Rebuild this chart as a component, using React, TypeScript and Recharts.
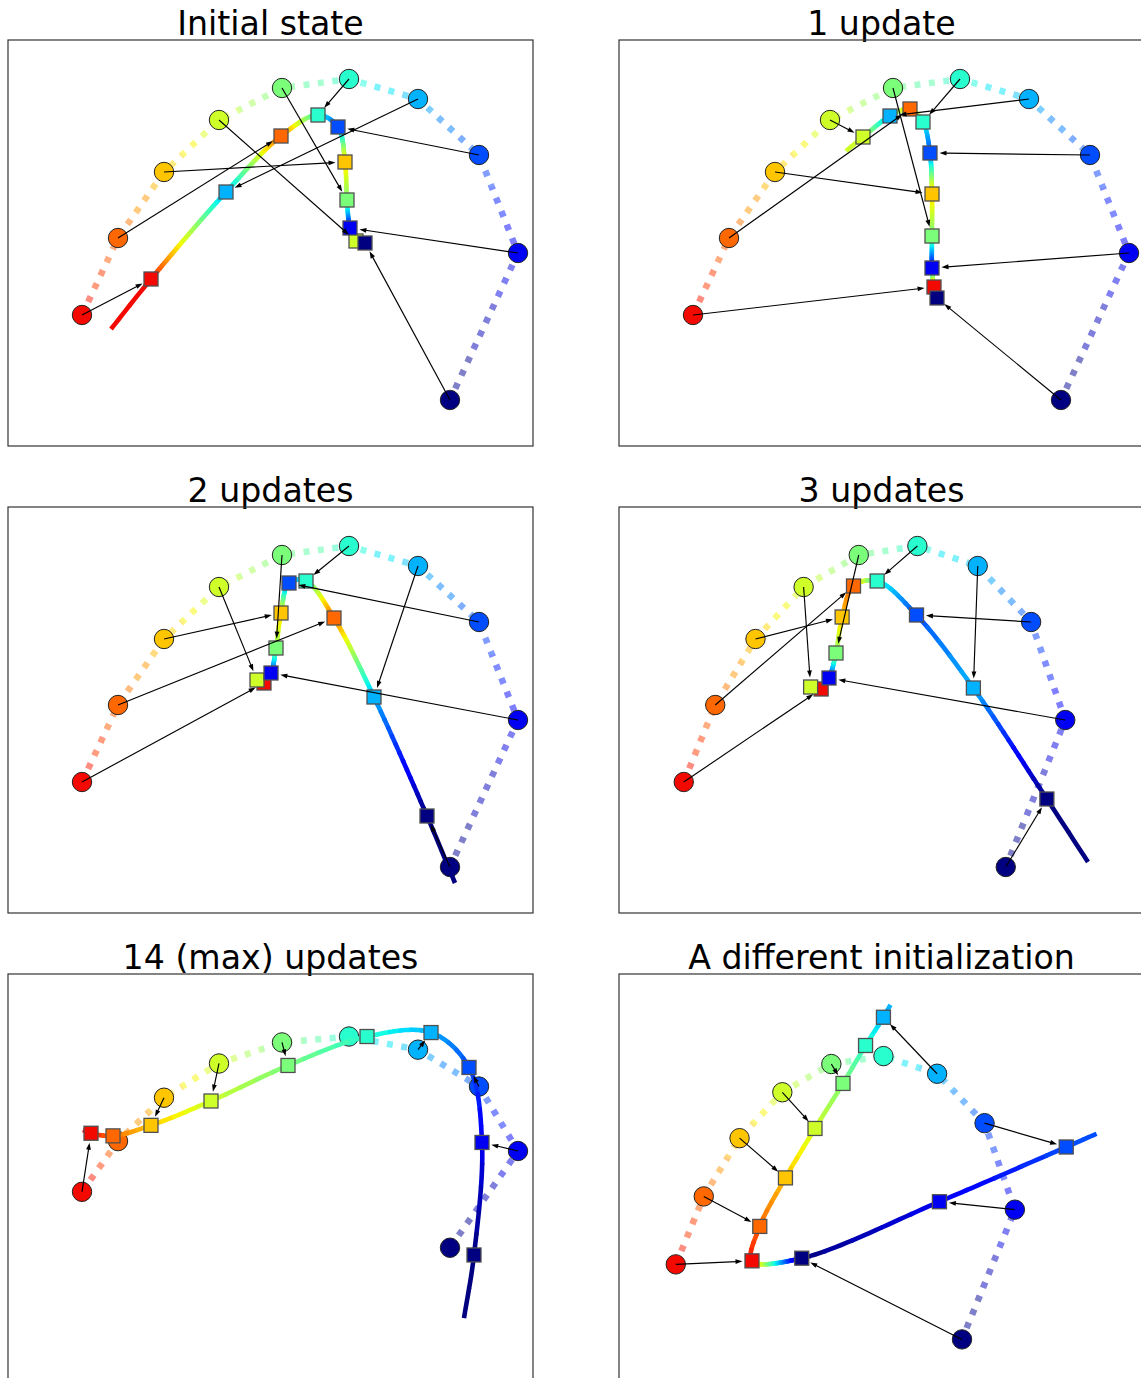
import React from 'react';
import { ComposedChart, Line, Scatter, XAxis, YAxis, ReferenceLine } from 'recharts';

const TITLES = [
  'Initial state',
  '1 update',
  '2 updates',
  '3 updates',
  '14 (max) updates',
  'A different initialization',
];

// The ten data points, in colour order (red ... navy).
const DATA_X = [0.74, 1.1, 1.56, 2.11, 2.74, 3.41, 4.1, 4.71, 5.1, 4.42];
const DATA_Y = [1.31, 2.08, 2.74, 3.26, 3.58, 3.67, 3.47, 2.91, 1.93, 0.46];

// Curve nodes at each stage; entry i is the node matched to data point i.
const INIT_X = [1.43, 2.73, 3.37, 3.48, 3.39, 3.1, 2.18, 3.3, 3.42, 3.57];
const INIT_Y = [1.67, 3.1, 2.84, 2.05, 2.46, 3.31, 2.54, 3.19, 2.18, 2.03];
const STEP1_X = [3.15, 2.91, 3.13, 2.44, 3.13, 3.04, 2.71, 3.11, 3.13, 3.18];
const STEP1_Y = [1.59, 3.37, 2.52, 3.09, 2.1, 3.24, 3.3, 2.93, 1.78, 1.48];
const STEP2_X = [2.56, 3.26, 2.73, 2.49, 2.68, 2.98, 3.66, 2.81, 2.63, 4.19];
const STEP2_Y = [2.3, 2.95, 3.0, 2.33, 2.65, 3.32, 2.16, 3.3, 2.4, 0.97];
const STEP3_X = [2.31, 2.68, 2.55, 2.19, 2.48, 2.95, 4.05, 3.4, 2.4, 4.89];
const STEP3_Y = [2.24, 3.27, 2.96, 2.26, 2.6, 3.32, 2.25, 2.98, 2.35, 1.14];
const FINAL_X = [0.83, 1.05, 1.43, 2.03, 2.8, 3.59, 4.23, 4.61, 4.74, 4.66];
const FINAL_Y = [2.2, 2.16, 2.32, 2.69, 3.23, 3.67, 3.73, 3.2, 2.06, 0.35];
const ALT_X = [1.72, 1.82, 2.15, 2.53, 2.89, 3.18, 3.41, 5.76, 4.13, 2.36];
const ALT_Y = [1.35, 1.74, 2.29, 2.85, 3.36, 3.79, 4.11, 2.64, 2.02, 1.38];

// Order of the nodes along each fitted curve.
const INIT_ORDER = [0, 6, 1, 5, 7, 2, 4, 8, 3, 9];
const STEP1_ORDER = [3, 6, 1, 5, 7, 2, 4, 8, 0, 9];
const STEP2_ORDER = [3, 0, 8, 4, 2, 7, 5, 1, 6, 9];
const STEP3_ORDER = [3, 0, 8, 4, 2, 1, 5, 7, 6, 9];
const FINAL_ORDER = [0, 1, 2, 3, 4, 5, 6, 7, 8, 9];
const ALT_ORDER = [6, 5, 4, 3, 2, 1, 0, 9, 8, 7];

// Where a curve runs on past its first / last node (null: it stops there).
const INIT_ENDS = [[1.03, 1.17], null];
const STEP1_ENDS = [[2.27, 2.95], null];
const STEP2_ENDS = [null, [4.47, 0.3]];
const STEP3_ENDS = [null, [5.36, 0.51]];
const FINAL_ENDS = [[0.75, 2.25], [4.56, -0.61]];
const ALT_ENDS = [[3.5, 4.25], [6.15, 2.79]];

// Data points whose arrow is not drawn (point sits on its node).
const INIT_NO_ARROW: number[] = [];
const STEP1_NO_ARROW: number[] = [];
const STEP2_NO_ARROW: number[] = [];
const STEP3_NO_ARROW: number[] = [];
const FINAL_NO_ARROW = [1, 5, 9];
const ALT_NO_ARROW = [5];

// Axis limits [xmin, xmax, ymin, ymax] of each panel.
const LIMITS = [
  [0, 5.25, 0, 4.06],
  [0, 5.25, 0, 4.06],
  [0, 5.25, 0, 4.06],
  [0, 6.0, 0, 4.06],
  [0, 5.25, -1.55, 4.62],
  [0.01, 6.76, 0, 4.6],
];

const W = 525;
const H = 406;
const COL_LEFT = [8, 619];
const ROW_TOP = [40, 507, 974];
const MARGIN = { top: 0, right: 0, bottom: 0, left: 0 };

// matplotlib "jet" colour map
const JET_R = [[0, 0], [0.35, 0], [0.66, 1], [0.89, 1], [1, 0.5]];
const JET_G = [[0, 0], [0.125, 0], [0.375, 1], [0.64, 1], [0.91, 0], [1, 0]];
const JET_B = [[0, 0.5], [0.11, 1], [0.34, 1], [0.65, 0], [1, 0]];

function lerpTable(tab: number[][], t: number) {
  for (let i = 0; i < tab.length - 1; i++) {
    const [a, va] = tab[i];
    const [b, vb] = tab[i + 1];
    if (t <= b) return va + ((vb - va) * (t - a)) / (b - a);
  }
  return tab[tab.length - 1][1];
}

function colour(t: number, alpha = 1) {
  const tt = Math.min(1, Math.max(0, t));
  const v = [JET_R, JET_G, JET_B].map((tab) =>
    Math.round(255 * (1 - alpha * (1 - lerpTable(tab, tt))))
  );
  return `rgb(${v[0]},${v[1]},${v[2]})`;
}

// colour parameter of data point / node i (red = 0.9 ... navy = 0)
const param = (i: number) => 0.9 - 0.1 * i;

type Node = { x: number; y: number; t: number };
type P = { x: number; y: number; t: number };

const circleNodes: Node[] = DATA_X.map((x, i) => ({ x, y: DATA_Y[i], t: param(i) }));

function curveNodes(nx: number[], ny: number[], order: number[], ends: any[]): Node[] {
  const nodes: Node[] = order.map((i) => ({ x: nx[i], y: ny[i], t: param(i) }));
  if (ends[0]) nodes.unshift({ x: ends[0][0], y: ends[0][1], t: nodes[0].t });
  if (ends[1]) nodes.push({ x: ends[1][0], y: ends[1][1], t: nodes[nodes.length - 1].t });
  return nodes;
}

const STAGES = [
  { nx: INIT_X, ny: INIT_Y, order: INIT_ORDER, ends: INIT_ENDS, skip: INIT_NO_ARROW },
  { nx: STEP1_X, ny: STEP1_Y, order: STEP1_ORDER, ends: STEP1_ENDS, skip: STEP1_NO_ARROW },
  { nx: STEP2_X, ny: STEP2_Y, order: STEP2_ORDER, ends: STEP2_ENDS, skip: STEP2_NO_ARROW },
  { nx: STEP3_X, ny: STEP3_Y, order: STEP3_ORDER, ends: STEP3_ENDS, skip: STEP3_NO_ARROW },
  { nx: FINAL_X, ny: FINAL_Y, order: FINAL_ORDER, ends: FINAL_ENDS, skip: FINAL_NO_ARROW },
  { nx: ALT_X, ny: ALT_Y, order: ALT_ORDER, ends: ALT_ENDS, skip: ALT_NO_ARROW },
];

const PANELS = STAGES.map((s, i) => ({
  ...s,
  title: TITLES[i],
  left: COL_LEFT[i % 2],
  top: ROW_TOP[Math.floor(i / 2)],
  lim: LIMITS[i],
  nodes: s.nx.map((x, k) => ({ x, y: s.ny[k], t: param(k) })),
  curve: curveNodes(s.nx, s.ny, s.order, s.ends),
}));

// ---------- drawing helpers (pixel space) ----------

function tangents(p0: any, p1: any, p2: any, p3: any) {
  const d = (a: any, b: any) => Math.max(Math.sqrt(Math.hypot(b.x - a.x, b.y - a.y)), 1e-3);
  const t01 = d(p0, p1);
  const t12 = d(p1, p2);
  const t23 = d(p2, p3);
  const m1 = {
    x: p2.x - p1.x + t12 * ((p1.x - p0.x) / t01 - (p2.x - p0.x) / (t01 + t12)),
    y: p2.y - p1.y + t12 * ((p1.y - p0.y) / t01 - (p2.y - p0.y) / (t01 + t12)),
  };
  const m2 = {
    x: p2.x - p1.x + t12 * ((p3.x - p2.x) / t23 - (p3.x - p1.x) / (t12 + t23)),
    y: p2.y - p1.y + t12 * ((p3.y - p2.y) / t23 - (p3.y - p1.y) / (t12 + t23)),
  };
  return [m1, m2];
}

// smooth centripetal Catmull-Rom curve, coloured piecewise along its length
function smoothCurve(pts: P[], width: number) {
  const n = pts.length;
  const get = (i: number) => {
    if (i < 0) return { x: 2 * pts[0].x - pts[1].x, y: 2 * pts[0].y - pts[1].y };
    if (i >= n) return { x: 2 * pts[n - 1].x - pts[n - 2].x, y: 2 * pts[n - 1].y - pts[n - 2].y };
    return pts[i];
  };
  const out: any[] = [];
  for (let j = 0; j < n - 1; j++) {
    const p0 = get(j - 1);
    const p1 = pts[j];
    const p2 = pts[j + 1];
    const p3 = get(j + 2);
    const [m1, m2] = tangents(p0, p1, p2, p3);
    const at = (u: number) => {
      const u2 = u * u;
      const u3 = u2 * u;
      const h00 = 2 * u3 - 3 * u2 + 1;
      const h10 = u3 - 2 * u2 + u;
      const h01 = -2 * u3 + 3 * u2;
      const h11 = u3 - u2;
      return [
        h00 * p1.x + h10 * m1.x + h01 * p2.x + h11 * m2.x,
        h00 * p1.y + h10 * m1.y + h01 * p2.y + h11 * m2.y,
      ];
    };
    const dt = p2.t - p1.t;
    const pieces = Math.max(2, Math.ceil(Math.abs(dt) / 0.02));
    for (let k = 0; k < pieces; k++) {
      let d = '';
      for (let s = 0; s <= 5; s++) {
        const [x, y] = at((k + s / 5) / pieces);
        d += (s === 0 ? 'M' : 'L') + x.toFixed(2) + ',' + y.toFixed(2);
      }
      const isEnd = (j === 0 && k === 0) || (j === n - 2 && k === pieces - 1);
      out.push(
        <path
          key={`c${j}-${k}`}
          d={d}
          fill="none"
          stroke={colour(p1.t + (dt * (k + 0.5)) / pieces)}
          strokeWidth={width}
          strokeLinecap={isEnd ? 'butt' : 'round'}
          strokeLinejoin="round"
        />
      );
    }
  }
  return out;
}

// straight dotted polyline with a continuous dash pattern and faded colours
function dottedLine(pts: P[], width: number, dash: [number, number]) {
  const out: any[] = [];
  let acc = 0;
  for (let j = 0; j < pts.length - 1; j++) {
    const a = pts[j];
    const b = pts[j + 1];
    const len = Math.hypot(b.x - a.x, b.y - a.y);
    const ux = (b.x - a.x) / len;
    const uy = (b.y - a.y) / len;
    const pieces = 3;
    for (let k = 0; k < pieces; k++) {
      const s0 = (len * k) / pieces;
      const s1 = Math.min(len, (len * (k + 1)) / pieces + 0.6);
      out.push(
        <path
          key={`d${j}-${k}`}
          d={`M${(a.x + ux * s0).toFixed(2)},${(a.y + uy * s0).toFixed(2)}L${(a.x + ux * s1).toFixed(2)},${(a.y + uy * s1).toFixed(2)}`}
          fill="none"
          stroke={colour(a.t + ((b.t - a.t) * (k + 0.5)) / pieces, 0.5)}
          strokeWidth={width}
          strokeDasharray={`${dash[0]} ${dash[1]}`}
          strokeDashoffset={acc + s0}
          strokeLinecap="butt"
        />
      );
    }
    acc += len;
  }
  return out;
}

// Line dot renderer that draws the whole series once all pixel positions are known
function seriesPainter(count: number, draw: (pts: P[]) => any) {
  const buf: P[] = [];
  return (props: any) => {
    const i = props.index;
    buf[i] = { x: props.cx, y: props.cy, t: props.payload.t };
    const pts = props.points;
    if (Array.isArray(pts) && pts.length === count) {
      if (i !== 0) return <g key={`dot-${i}`} />;
      return <g key="dot-all">{draw(pts.map((p: any) => ({ x: p.x, y: p.y, t: p.payload.t })))}</g>;
    }
    if (i !== count - 1) return <g key={`dot-${i}`} />;
    return <g key="dot-all">{draw(buf.slice(0, count))}</g>;
  };
}

const arrowShape = (p: any) => {
  const { x1, y1, x2, y2 } = p;
  const dx = x2 - x1;
  const dy = y2 - y1;
  const len = Math.hypot(dx, dy);
  const shrink = 9.5;
  if (!(len > shrink + 6)) return <g />;
  const ux = dx / len;
  const uy = dy / len;
  const tx = x2 - ux * shrink;
  const ty = y2 - uy * shrink;
  const hl = 7;
  const hw = 2.4;
  const bx = tx - ux * hl;
  const by = ty - uy * hl;
  return (
    <g>
      <line x1={x1} y1={y1} x2={bx + ux} y2={by + uy} stroke="#000" strokeWidth={1.15} />
      <polygon
        points={`${tx},${ty} ${bx - uy * hw},${by + ux * hw} ${bx + uy * hw},${by - ux * hw}`}
        fill="#000"
      />
    </g>
  );
};

const circleShape = (p: any) => (
  <circle cx={p.cx} cy={p.cy} r={9.7} fill={colour(p.payload.t)} stroke="#222" strokeWidth={1} />
);

const squareShape = (p: any) => (
  <rect
    x={p.cx - 7}
    y={p.cy - 7}
    width={14}
    height={14}
    fill={colour(p.payload.t)}
    stroke="#505050"
    strokeWidth={1.3}
  />
);

function Layer({ panel, children }: { panel: any; children: any }) {
  const [x0, x1, y0, y1] = panel.lim;
  return (
    <div style={{ position: 'absolute', left: panel.left, top: panel.top, width: W, height: H }}>
      <ComposedChart width={W} height={H} margin={MARGIN}>
        <XAxis type="number" dataKey="x" domain={[x0, x1]} allowDataOverflow hide />
        <YAxis type="number" dataKey="y" domain={[y0, y1]} allowDataOverflow hide />
        {children}
      </ComposedChart>
    </div>
  );
}

function Panel({ panel }: { panel: any }) {
  const dotted = seriesPainter(circleNodes.length, (pts) => dottedLine(pts, 6.5, [6, 8.5]));
  const curve = seriesPainter(panel.curve.length, (pts) => smoothCurve(pts, 4.6));
  return (
    <>
      <Layer panel={panel}>
        <Line
          data={circleNodes}
          dataKey="y"
          stroke="none"
          dot={dotted}
          activeDot={false}
          legendType="none"
          isAnimationActive={false}
        />
      </Layer>
      <Layer panel={panel}>
        <Scatter data={circleNodes} shape={circleShape} isAnimationActive={false} />
      </Layer>
      <Layer panel={panel}>
        <Line
          data={panel.curve}
          dataKey="y"
          stroke="none"
          dot={curve}
          activeDot={false}
          legendType="none"
          isAnimationActive={false}
        />
      </Layer>
      <Layer panel={panel}>
        <Scatter data={panel.nodes} shape={squareShape} isAnimationActive={false} />
      </Layer>
      <Layer panel={panel}>
        {circleNodes.map((c, i) =>
          panel.skip.includes(i) ? null : (
            <ReferenceLine
              key={`a${i}`}
              segment={[
                { x: c.x, y: c.y },
                { x: panel.nodes[i].x, y: panel.nodes[i].y },
              ]}
              ifOverflow="visible"
              shape={arrowShape}
            />
          )
        )}
      </Layer>
    </>
  );
}

export default function App() {
  return (
    <div
      style={{
        position: 'absolute',
        left: 0,
        top: 0,
        width: 1141,
        height: 1378,
        overflow: 'hidden',
        background: '#fff',
      }}
    >
      <svg width={1141} height={1378} style={{ position: 'absolute', left: 0, top: 0 }}>
        {PANELS.map((p, i) => (
          <g key={i}>
            <text
              x={p.left + W / 2}
              y={p.top - 5.5}
              textAnchor="middle"
              fontFamily="'DejaVu Sans', sans-serif"
              fontSize={33.2}
              fill="#000"
            >
              {p.title}
            </text>
            <rect x={p.left} y={p.top} width={W} height={H} fill="none" stroke="#333" strokeWidth={1.2} />
          </g>
        ))}
      </svg>
      {PANELS.map((p, i) => (
        <Panel key={i} panel={p} />
      ))}
    </div>
  );
}
